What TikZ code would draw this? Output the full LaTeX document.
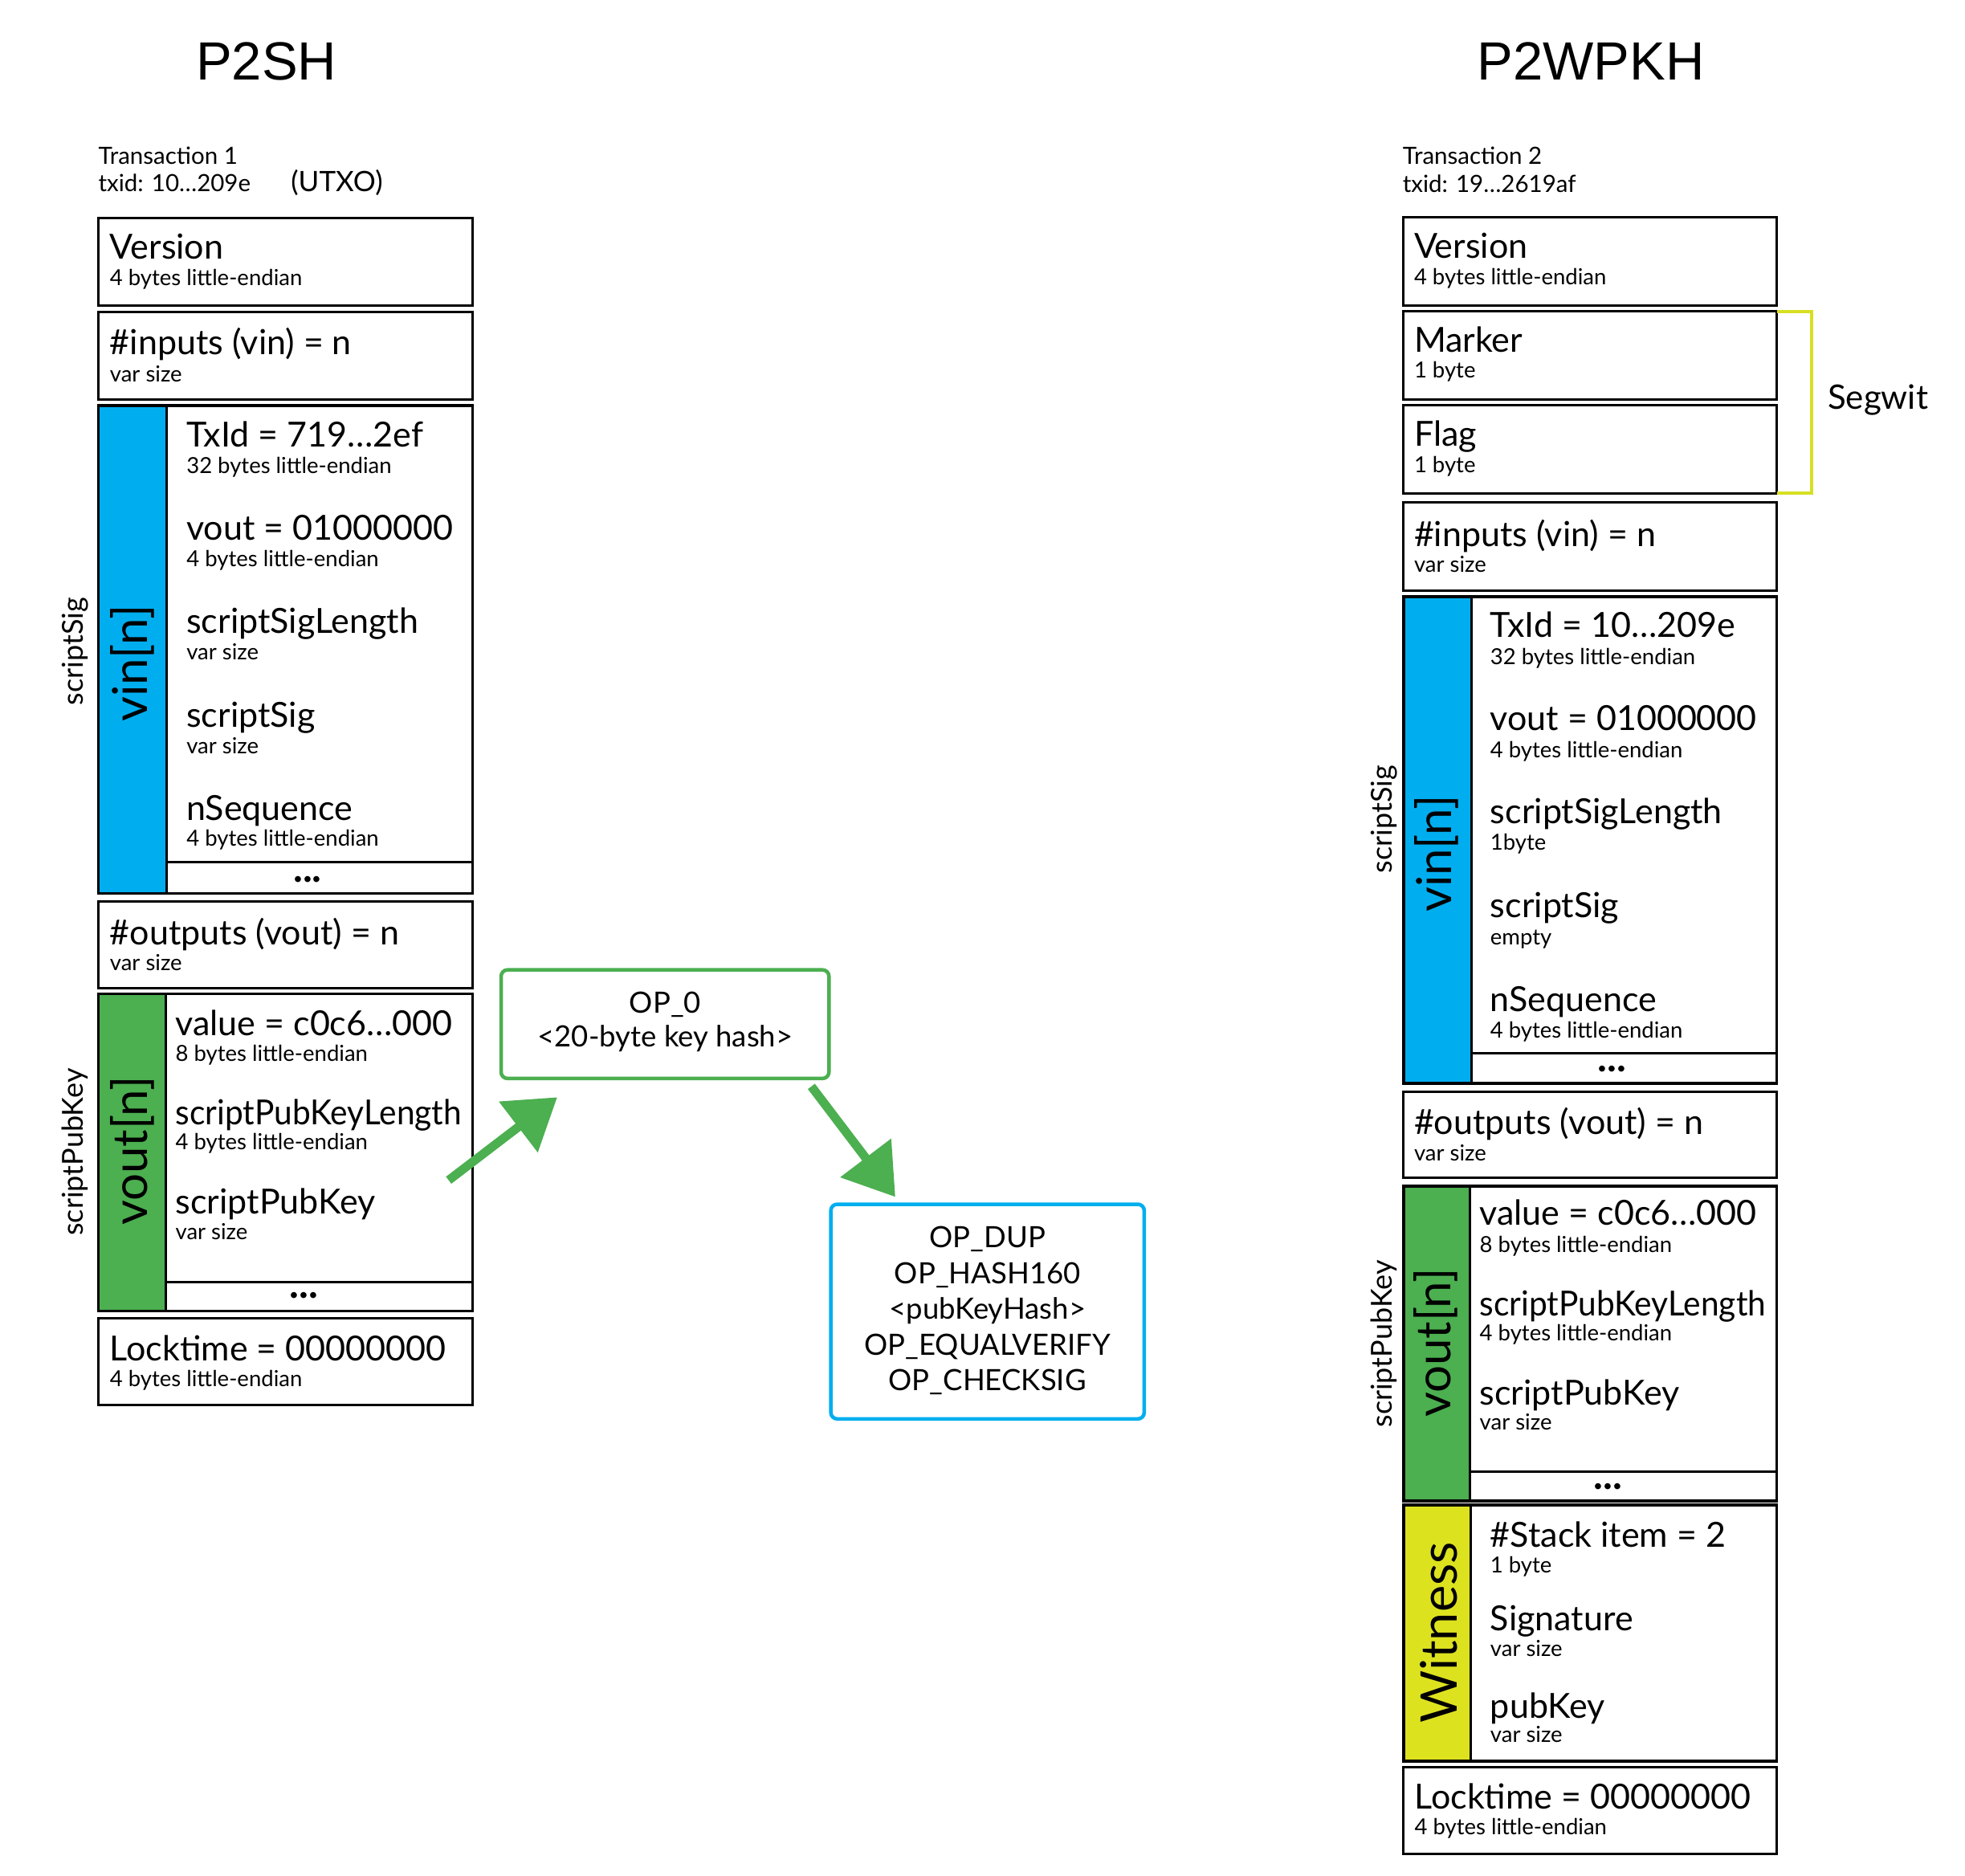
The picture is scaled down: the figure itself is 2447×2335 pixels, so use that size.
\documentclass[tikz,border=0pt]{standalone}
\usepackage{fontspec}
\setmainfont{Lato}
\newfontfamily\titlefont{Liberation Sans}
\usetikzlibrary{arrows.meta}
\definecolor{vinblue}{RGB}{0,174,239}
\definecolor{voutgreen}{RGB}{76,175,80}
\definecolor{wityellow}{RGB}{221,226,31}
\definecolor{segyellow}{RGB}{215,223,35}
\newcommand\fs[1]{\fontsize{#1}{#1}\selectfont}
\newcommand\narrow[1]{\scalebox{0.945}[1]{#1}}
\tikzset{
 fbox/.style={draw, line width=3pt, inner sep=0pt, outer sep=0pt, anchor=north west},
 gbox/.style={fbox, line width=3.6pt},
 bar/.style={fbox},
 ttl/.style={anchor=base west, inner sep=0pt, font=\fs{43}},
 subt/.style={anchor=base west, inner sep=0pt, font=\fs{27.5}},
 hdr/.style={anchor=base west, inner sep=0pt, font=\fs{29.5}},
 bigv/.style={anchor=base, inner sep=0pt, rotate=90, font=\fs{60}},
 side/.style={anchor=base, inner sep=0pt, rotate=90, font=\fs{36}},
 dotsrow/.style={anchor=center, inner sep=0pt, font=\fs{50}\bfseries},
 optext/.style={anchor=base, inner sep=0pt, font=\fs{36.5}},
 arr/.style={line width=11pt, draw=voutgreen, -{Triangle[length=61pt,width=77pt,fill=voutgreen]}},
 scriptbox/.style={draw, line width=4.5pt, rounded corners=8pt, inner sep=0pt, outer sep=0pt, anchor=north west},
 titletext/.style={anchor=base, inner sep=0pt, font=\titlefont\fs{67}},
}
\newcommand\mkbox[6][fbox]{\pgfmathsetmacro\bw{#5-#3}\pgfmathsetmacro\bh{#6-#4}\node[#1, minimum width=\bw pt, minimum height=\bh pt] (#2) at (#3,#4) {};}
\newcommand\fld[6]{\node[ttl] (#1t) at (#2,#3) {#5};\node[subt] (#1s) at (#2,#4) {#6};}
\begin{document}
\begin{tikzpicture}[x=1pt,y=-1pt]
\useasboundingbox (0,0) rectangle (2447,2335);
% ---------------- titles
\node[titletext] (title1) at (331.6,99.5) {P2SH};
\node[titletext] (title2) at (1981,99.3) {P2WPKH};
% ---------------- left transaction
\node[hdr] (tx1a) at (122.4,204) {Transaction 1};
\node[hdr] (tx1b) at (122.4,238.8) {txid: 10…209e};
\node[hdr, font=\fs{35}] (tx1c) at (362.2,238.8) {(UTXO)};
\mkbox{ver1}{122.5}{271.4}{588.5}{380.6}
\fld{ver1}{136.7}{322.4}{355.6}{Version}{4 bytes little-endian}
\mkbox{inp1}{122.5}{388.8}{588.5}{497}
\fld{inp1}{136.7}{441.8}{475.5}{\#inputs (vin) = n}{var size}
% vin
\mkbox[bar, fill=vinblue]{vinbar1}{122.5}{505.1}{207}{1112.5}
\mkbox{vdots1}{207}{1073}{588.5}{1112.5}
\mkbox[gbox]{vin1}{122.5}{505.1}{588.5}{1112.5}
\node[bigv] (vinl1) at (183.6,826) {vin[n]};
\node[side] (sig1) at (103,811) {scriptSig};
\fld{txid1}{232.1}{556.1}{589.3}{TxId = 719…2ef}{32 bytes little-endian}
\fld{vo1}{232.1}{672.4}{705.6}{vout = 01000000}{4 bytes little-endian}
\fld{ssl1}{232.1}{788.7}{821.9}{scriptSigLength}{var size}
\fld{ss1}{232.1}{905.2}{938.4}{scriptSig}{var size}
\fld{nseq1}{232.1}{1021.5}{1053.8}{nSequence}{4 bytes little-endian}
\node[dotsrow] (d1) at (383,1094.6) {...};
\mkbox{out1}{122.5}{1122}{588.5}{1230.5}
\fld{out1}{136.7}{1176}{1208}{\#outputs (vout) = n}{var size}
% vout
\mkbox[bar, fill=voutgreen]{voutbar1}{122.5}{1237.5}{206.6}{1632.3}
\mkbox{vdots2}{206.6}{1596}{588.5}{1632.3}
\mkbox[gbox]{vout1}{122.5}{1237.5}{588.5}{1632.3}
\node[bigv] (voutl1) at (183.6,1433) {vout[n]};
\node[side] (spk1) at (103,1434.6) {scriptPubKey};
\fld{val1}{218.4}{1289}{1321}{value = c0c6…000}{8 bytes little-endian}
\fld{spkl1}{218.4}{1400.8}{1431.4}{\narrow{scriptPubKeyLength}}{4 bytes little-endian}
\fld{spkf1}{218.4}{1511}{1543}{scriptPubKey}{var size}
\node[dotsrow] (d2) at (378.6,1613) {...};
\mkbox{lock1}{122.5}{1641.8}{588.5}{1749}
\fld{lock1}{136.7}{1694}{1726.7}{Locktime = 00000000}{4 bytes little-endian}
% ---------------- scripts and arrows
\mkbox[scriptbox, draw=voutgreen]{p2wpkhscript}{624}{1207.7}{1032.3}{1342.9}
\node[optext] (op0) at (828.5,1261) {OP\_0};
\node[optext] (op0b) at (828.5,1303.4) {<20-byte key hash>};
\mkbox[scriptbox, draw=vinblue]{p2pkhscript}{1034.6}{1499.5}{1424.9}{1766.8}
\node[optext] (op1) at (1229.7,1553.7) {OP\_DUP};
\node[optext] (op2) at (1229.7,1598.3) {OP\_HASH160};
\node[optext] (op3) at (1229.7,1642.6) {<pubKeyHash>};
\node[optext] (op4) at (1229.7,1687.3) {OP\_EQUALVERIFY};
\node[optext] (op5) at (1229.7,1731.6) {OP\_CHECKSIG};
\coordinate (a1s) at (558.7,1469.6);
\coordinate (a1e) at (693.9,1366.3);
\coordinate (a2s) at (1010.4,1352.8);
\coordinate (a2e) at (1114.9,1490.4);
\draw[arr] (a1s) -- (a1e);
\draw[arr] (a2s) -- (a2e);
% ---------------- right transaction
\node[hdr] (tx2a) at (1746.6,204.5) {Transaction 2};
\node[hdr] (tx2b) at (1746.6,239.3) {txid: 19…2619af};
\mkbox{ver2}{1747.7}{270.5}{2212.5}{380.8}
\fld{ver2}{1760.8}{321.9}{354.5}{Version}{4 bytes little-endian}
\mkbox{mark2}{1747.7}{387.5}{2212.5}{497.3}
\fld{mark2}{1760.8}{438}{470.5}{Marker}{1 byte}
\mkbox{flag2}{1747.7}{504.9}{2212.5}{614.3}
\fld{flag2}{1760.8}{555.4}{588.4}{Flag}{1 byte}
\draw[segyellow, line width=4pt] (mark2.north east) -- ++(43.5,0) |- (flag2.south east);
\node[anchor=base west, inner sep=0pt, font=\fs{42}] (segwit) at (2276,509.4) {Segwit};
\mkbox{inp2}{1747.7}{625.9}{2212.5}{735.3}
\fld{inp2}{1760.8}{680.4}{712.5}{\#inputs (vin) = n}{var size}
% vin
\mkbox[bar, fill=vinblue]{vinbar2}{1747.7}{743}{1832.5}{1348.8}
\mkbox{vdots3}{1832.5}{1311}{2212.5}{1348.8}
\mkbox[gbox]{vin2}{1747.7}{743}{2212.5}{1348.8}
\node[bigv] (vinl2) at (1807,1063) {vin[n]};
\node[side] (sig2) at (1733,1020) {scriptSig};
\fld{txid2}{1855.7}{793.3}{827.3}{TxId = 10…209e}{32 bytes little-endian}
\fld{vo2}{1855.7}{909.9}{943}{vout = 01000000}{4 bytes little-endian}
\fld{ssl2}{1855.7}{1025.5}{1058.5}{scriptSigLength}{1byte}
\fld{ss2}{1855.7}{1142.5}{1176.5}{scriptSig}{empty}
\fld{nseq2}{1855.7}{1259}{1292}{nSequence}{4 bytes little-endian}
\node[dotsrow] (d3) at (2007.7,1331.3) {...};
\mkbox{out2}{1747.7}{1359.6}{2212.5}{1466.8}
\fld{out2}{1760.8}{1412.5}{1445}{\#outputs (vout) = n}{var size}
% vout
\mkbox[bar, fill=voutgreen]{voutbar2}{1747.7}{1476.7}{1830}{1869}
\mkbox{vdots4}{1830}{1832.8}{2212.5}{1869}
\mkbox[gbox]{vout2}{1747.7}{1476.7}{2212.5}{1869}
\node[bigv] (voutl2) at (1806.8,1672) {vout[n]};
\node[side] (spk2) at (1733,1673.5) {scriptPubKey};
\fld{val2}{1842.5}{1525.8}{1559.3}{value = c0c6…000}{8 bytes little-endian}
\fld{spkl2}{1842.5}{1638.6}{1669.3}{\narrow{scriptPubKeyLength}}{4 bytes little-endian}
\fld{spkf2}{1842.5}{1749}{1780.9}{scriptPubKey}{var size}
\node[dotsrow] (d4) at (2002.7,1850.6) {...};
% witness
\mkbox[bar, fill=wityellow]{witbar2}{1747.7}{1874}{1831.8}{2192.7}
\mkbox[gbox]{wit2}{1747.7}{1874}{2212.5}{2192.7}
\node[bigv, font=\fs{63}] (witl2) at (1814,2033) {Witness};
\fld{stk2}{1855.7}{1926}{1958.3}{\#Stack item = 2}{1 byte}
\fld{sig2}{1855.7}{2030.3}{2062.7}{Signature}{var size}
\fld{pk2}{1855.7}{2139.7}{2169.8}{pubKey}{var size}
\mkbox{lock2}{1747.7}{2200}{2212.5}{2308.2}
\fld{lock2}{1761.4}{2252.4}{2284.8}{Locktime = 00000000}{4 bytes little-endian}
\end{tikzpicture}
\end{document}
